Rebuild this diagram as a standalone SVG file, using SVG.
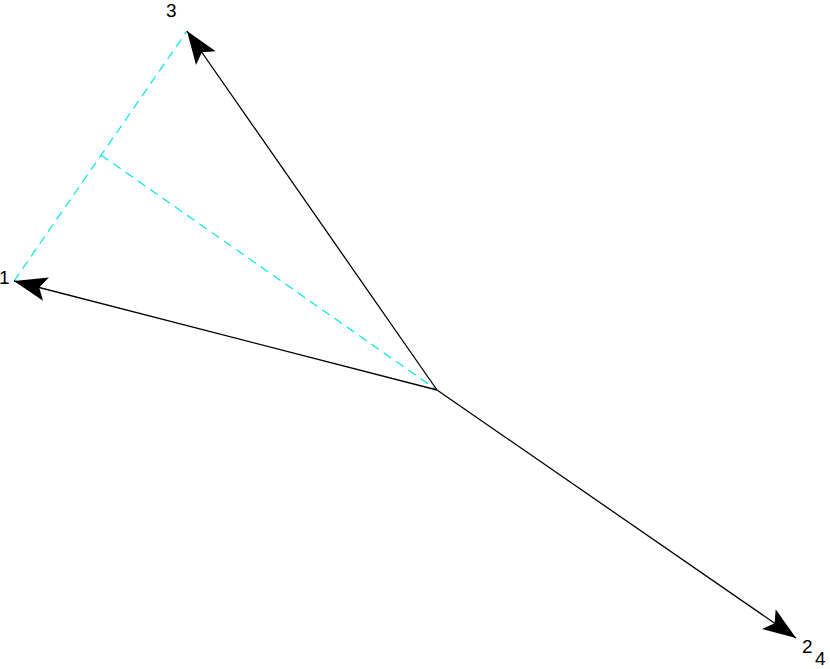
<svg xmlns="http://www.w3.org/2000/svg" width="830" height="669" viewBox="0 0 830 669">
<style>
.vec{stroke:#000;stroke-width:1.3;fill:none;marker-end:url(#ah)}
.proj{stroke:#00e5e5;stroke-width:1.2;stroke-dasharray:9,6;fill:none}
text{font-family:"Liberation Sans",Arial,sans-serif;font-size:19px;fill:#000}
</style>
<defs>
<marker id="ah" markerUnits="userSpaceOnUse" markerWidth="40" markerHeight="30" viewBox="-34 -15 36 30" refX="0" refY="0" orient="auto">
<path d="M0,0 L-33,-12 L-26,0 L-33,12 Z" fill="#000"/>
</marker>
</defs>
<rect width="830" height="669" fill="#fff"/>
<g id="connectors">
<path class="proj" d="M14,281 L187,31"/>
<path class="proj" d="M101,155 L437,390"/>
<path class="vec" d="M437,390 L14,281"/>
<path class="vec" d="M437,390 L187,31"/>
<path class="vec" d="M437,390 L796,638"/>
</g>
<g id="label1"><text x="-1" y="284">1</text></g>
<g id="label3"><text x="166" y="17">3</text></g>
<g id="label2"><text x="802" y="653">2</text></g>
<g id="label4"><text x="815" y="665">4</text></g>
</svg>
